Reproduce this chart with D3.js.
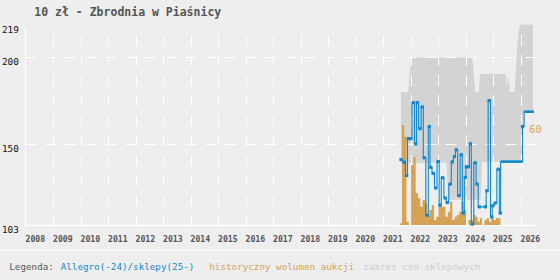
<!DOCTYPE html>
<html><head><meta charset="utf-8">
<script src="https://cdn.jsdelivr.net/npm/d3@7"></script>
<style>
html,body{margin:0;padding:0;background:#eeeeee;}
svg{display:block;}
text{font-family:"DejaVu Sans Mono","Liberation Mono",monospace;}
</style></head><body>
<svg id="c" width="560" height="280"></svg>
<script>
const title = "10 zł - Zbrodnia w Piaśnicy";
const yearTicks = [2008,2009,2010,2011,2012,2013,2014,2015,2016,2017,2018,2019,2020,2021,2022,2023,2024,2025,2026];
const priceTicks = [103, 150, 200, 219];
const gridPrices = [150, 200];

// Allegro prices (decimal year, zł)
const allegroTime = [2021.655,2021.775,2021.862,2021.92,2022.007,2022.102,2022.189,2022.247,2022.345,2022.429,
  2022.502,2022.611,2022.684,2022.735,2022.829,2022.916,2023.011,2023.073,2023.164,2023.265,
  2023.338,2023.447,2023.52,2023.6,2023.665,2023.764,2023.847,2023.92,2023.993,2024.036,
  2024.109,2024.175,2024.247,2024.356,2024.418,2024.502,2024.72,2024.782,2024.865,2024.953,
  2024.989,2025.084,2025.193,2025.265];
const allegroPrice = [140.9,139.3,131.6,153,153,173.8,150,173.8,158.7,171.3,
  141.9,108.7,160,136.4,132.9,124.4,139.7,114.5,130.4,118.6,
  116,126.7,139.5,142.6,146.5,120,143.7,109.9,130.6,136.7,
  136.7,150,103.5,139,126.7,113.5,113.5,122.8,175,107.7,
  114.1,115.7,135.3,109.9];

// Shop prices
const shopTime = [2025.29, 2026.075, 2026.13, 2026.49];
const shopPrice = [139.7, 160, 168.6, 168.6];

// Shop price range band
const bandTime = [2021.65,2021.92,2021.97,2022.03,2023.31,2023.37,2024.25,2024.35,2024.48,2024.53,2024.55,2024.60,2025.46,2025.50,2025.56,2025.61,2025.78,2025.86,2025.92,2025.99,2026.06,2026.10,2026.13,2026.455];
const bandMin  = [139,139,139,139,139,117.6,117.6,117.6,117.6,117.6,117.6,139.5,139.7,139.7,139.7,139.7,139.7,139.7,139.7,139.7,139.7,160,168.6,168.6];
const bandMax  = [180,180,191,200,200,200,200,180,180,190.4,190.4,190.4,190.4,183,190,180,180,200,214,219,219,219,219,219];

// Monthly auction volume
const volumeMonths = ["2021-08","2021-09","2021-10","2021-11","2021-12",
  "2022-01","2022-02","2022-03","2022-04","2022-05","2022-06","2022-07","2022-08","2022-09","2022-10","2022-11","2022-12",
  "2023-01","2023-02","2023-03","2023-04","2023-05","2023-06","2023-07","2023-08","2023-09","2023-10","2023-11","2023-12",
  "2024-01","2024-02","2024-03","2024-04","2024-05","2024-06","2024-07","2024-08","2024-09","2024-10","2024-11","2024-12",
  "2025-01","2025-02","2025-03"];
const volumeValues = [1,60,53,2,0,
  36,41,19,16,11,15,13,6,9,12,3,5,
  12,11,11,5,8,14,3,5,6,8,14,9,
  0,3,3,6,5,2,4,0,3,4,2,5,
  3,4,4];
const volumeMaxLabel = "60";

const legendParts = [
  {text:"Legenda:", color:"#555555"},
  {text:"Allegro(-24)/sklepy(25-)", color:"#1088cc"},
  {text:"historyczny wolumen aukcji", color:"#d4a257"},
  {text:"zakres cen sklepowych", color:"#cccccc"}
];

(function(){
const BLUE = "#1088cc", ORANGE = "#d6a355", BAND = "#d3d3d3";
const svg = d3.select("#c");
const W = 560, H = 280;
const pL = 25.5, pR = 536, pT = 24.6, pB = 225;

const x = d3.scaleLinear().domain([2008, 2008 + (pR-pL)/27.5]).range([pL, pR]);
const y = d3.scaleLinear().domain([103, 219]).range([pB, pT]);
const yv = d3.scaleLinear().domain([0, 60]).range([pB, 125]);
const monthToYear = s => { const [a,b] = s.split("-").map(Number); return a + (b-1)/12; };

svg.append("rect").attr("width", W).attr("height", H).attr("fill", "#eeeeee");

// band
const band = bandTime.map((t,i)=>({t, lo:bandMin[i], hi:bandMax[i]}));
svg.append("path").datum(band)
  .attr("fill", BAND)
  .attr("d", d3.area().x(d=>x(d.t)).y0(d=>y(d.lo)).y1(d=>y(d.hi)));

// grid
const g = svg.append("g");
g.selectAll("line.v").data(yearTicks.filter(d=>d>2008)).join("line")
  .attr("x1", d=>Math.round(x(d))+0.5).attr("x2", d=>Math.round(x(d))+0.5)
  .attr("y1", 226).attr("y2", 26)
  .attr("stroke", "#ffffff").attr("stroke-width", 1).attr("stroke-dasharray", "11,9");
g.selectAll("line.h").data(gridPrices).join("line")
  .attr("x1", pL).attr("x2", pR)
  .attr("y1", d=>Math.round(y(d))+0.5).attr("y2", d=>Math.round(y(d))+0.5)
  .attr("stroke", "#ffffff").attr("stroke-width", 1).attr("stroke-dasharray", "11,9");
// axes
svg.append("line").attr("x1", pL).attr("x2", pL).attr("y1", 27).attr("y2", 228)
  .attr("stroke", "#fff").attr("stroke-width", 1.2);
svg.append("line").attr("x1", pL).attr("x2", pR).attr("y1", pB+0.5).attr("y2", pB+0.5)
  .attr("stroke", "#fff").attr("stroke-width", 1.5);

// volume bars as a seamless stepped area
const vol = volumeMonths.map((m,i)=>({t:monthToYear(m), v:volumeValues[i]}));
vol.push({t: vol[vol.length-1].t + 1/12, v: vol[vol.length-1].v});
svg.append("path").datum(vol)
  .attr("fill", ORANGE)
  .attr("d", d3.area().x(d=>x(d.t)+0.6).y0(pB).y1(d=>yv(d.v)).curve(d3.curveStepAfter));

// blue line
const pts = allegroTime.map((t,i)=>({t, v:allegroPrice[i]}));
const shopPts = shopTime.map((t,i)=>({t, v:shopPrice[i]}));
const line = d3.line().x(d=>x(d.t)).y(d=>y(d.v)).curve(d3.curveStep);
svg.append("path").datum(pts.concat([shopPts[0]]))
  .attr("fill","none").attr("stroke", BLUE).attr("stroke-width", 1.1).attr("d", line);
svg.append("path").datum(shopPts)
  .attr("fill","none").attr("stroke", BLUE).attr("stroke-width", 1.1)
  .attr("d", d3.line().x(d=>x(d.t)).y(d=>y(d.v)).curve(d3.curveStepAfter));
// thick shop levels
const shopSeg = [[shopPts[0], shopPts[1]], [shopPts[2], shopPts[3]]];
svg.append("g").selectAll("line").data(shopSeg).join("line")
  .attr("x1", d=>x(d[0].t)).attr("x2", d=>x(d[1].t))
  .attr("y1", d=>y(d[0].v)).attr("y2", d=>y(d[0].v))
  .attr("stroke", BLUE).attr("stroke-width", 2.6);
// markers
svg.append("g").selectAll("rect").data(pts.concat([shopPts[1]])).join("rect")
  .attr("x", d=>x(d.t)-1.6).attr("y", d=>y(d.v)-1.6)
  .attr("width", 3.2).attr("height", 3.2).attr("fill", BLUE);

// y labels
svg.append("g").selectAll("text").data(priceTicks).join("text")
  .attr("x", 2).attr("y", d=>y(d)+8)
  .attr("font-size", 9.3).attr("fill", "#111").text(d=>d);
// x labels
svg.append("g").selectAll("text").data(yearTicks).join("text")
  .attr("x", d=>x(d)).attr("y", 241.5)
  .attr("font-size", 8.2).attr("font-weight", "bold").attr("fill", "#555").text(d=>d);

// title
svg.append("text").attr("x", 34.3).attr("y", 16).attr("font-size", 11.5)
  .attr("font-weight", "bold").attr("fill", "#555").text(title);

// volume max label
svg.append("text").attr("x", 529.3).attr("y", yv(60)+8.3).attr("font-size", 10.3)
  .attr("fill", ORANGE).text(volumeMaxLabel);

// legend
svg.append("line").attr("x1",0).attr("x2",W).attr("y1",250.5).attr("y2",250.5)
  .attr("stroke","#fafafa").attr("stroke-width",1.5);
const legX = [9.3, 60.7, 209.3, 363.3];
svg.append("g").selectAll("text").data(legendParts).join("text")
  .attr("x", (d,i)=>legX[i]).attr("y", 270).attr("font-size", 9.25)
  .attr("fill", d=>d.color).text(d=>d.text);
})();
</script>
</body></html>
